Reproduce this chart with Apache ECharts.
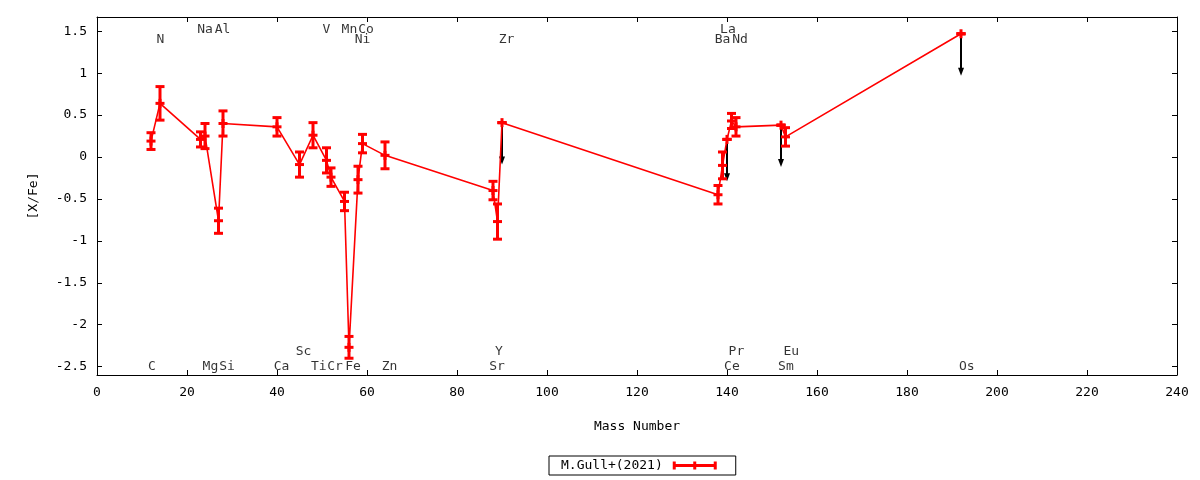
<!DOCTYPE html>
<html>
<head>
<meta charset="utf-8">
<script src="https://cdn.jsdelivr.net/npm/echarts@6/dist/echarts.min.js"></script>
<style>
  html, body { margin: 0; padding: 0; background: #fff; }
  #chart { width: 1200px; height: 480px; }
</style>
</head>
<body>
<div id="chart"></div>
<script>
// abundance pattern [X/Fe] vs mass number
var elements = ['C', 'N', 'Na', 'Mg', 'Al', 'Si', 'Ca', 'Sc', 'Ti', 'V', 'Cr', 'Mn', 'Fe', 'Ni', 'Co', 'Zn',
                'Sr', 'Y', 'Zr', 'Ba', 'La', 'Ce', 'Pr', 'Nd', 'Sm', 'Eu', 'Os'];
var massNumber = [12, 14, 23, 24, 27, 28, 40, 45, 48, 51, 52, 55, 56, 58, 59, 64,
                  88, 89, 90, 138, 139, 140, 141, 142, 152, 153, 192];
var xFe = [0.19, 0.64, 0.21, 0.25, -0.76, 0.40, 0.36, -0.09, 0.26, -0.04, -0.24, -0.53, -2.27, -0.27, 0.16, 0.02,
           -0.40, -0.77, 0.41, -0.45, -0.10, 0.21, 0.43, 0.36, 0.38, 0.24, 1.47];
var xFeErr = [0.10, 0.20, 0.09, 0.15, 0.15, 0.15, 0.11, 0.15, 0.15, 0.15, 0.11, 0.11, 0.13, 0.16, 0.11, 0.16,
              0.11, 0.21, 0, 0.11, 0.16, 0, 0.09, 0.11, 0, 0.11, 0];
// 1 = upper limit (arrow)
var upperLimit = [0, 0, 0, 0, 0, 0, 0, 0, 0, 0, 0, 0, 0, 0, 0, 0,
                  0, 0, 1, 0, 0, 1, 0, 0, 1, 0, 1];
var arrowLength = 0.5;

// element name labels
var labelX = [12.2, 14.1, 24, 25.2, 27.9, 28.9, 41, 45.9, 49.3, 51, 52.9, 56.1, 56.9, 59, 59.8, 65,
              88.9, 89.3, 91, 139, 140.2, 141.1, 142.1, 142.9, 153.1, 154.3, 193.3];
var labelRow = [3, 1, 0, 3, 0, 3, 3, 2, 3, 0, 3, 0, 3, 1, 0, 3,
                3, 2, 1, 1, 0, 3, 2, 1, 3, 2, 3];
var rowY = [1.52, 1.405, -2.325, -2.495];

var yTicks = [-2.5, -2, -1.5, -1, -0.5, 0, 0.5, 1, 1.5];
var seriesName = 'M.Gull+(2021)';

var FONT = 'DejaVu Sans Mono';
var RED = '#ff0000';

var lineData = [], errData = [], arrowData = [], labelData = [];
for (var i = 0; i < elements.length; i++) {
    lineData.push([massNumber[i], xFe[i]]);
    errData.push([massNumber[i], xFe[i], xFeErr[i]]);
    if (upperLimit[i]) {
        arrowData.push([massNumber[i], xFe[i], xFe[i] - arrowLength]);
    }
    labelData.push({ name: elements[i], value: [labelX[i], rowY[labelRow[i]]] });
}

function renderErr(params, api) {
    var x = api.value(0), y = api.value(1), e = api.value(2);
    var top = api.coord([x, y + e]);
    var mid = api.coord([x, y]);
    var bot = api.coord([x, y - e]);
    var hw = 4.5;
    var st = { stroke: RED, lineWidth: 3 };
    return {
        type: 'group',
        children: [
            { type: 'line', shape: { x1: mid[0], y1: top[1], x2: mid[0], y2: bot[1] }, style: st },
            { type: 'line', shape: { x1: mid[0] - hw, y1: top[1], x2: mid[0] + hw, y2: top[1] }, style: st },
            { type: 'line', shape: { x1: mid[0] - hw, y1: bot[1], x2: mid[0] + hw, y2: bot[1] }, style: st },
            { type: 'line', shape: { x1: mid[0] - hw, y1: mid[1], x2: mid[0] + hw, y2: mid[1] }, style: st },
            { type: 'line', shape: { x1: mid[0], y1: mid[1] - hw, x2: mid[0], y2: mid[1] + hw }, style: st }
        ]
    };
}

function renderArrow(params, api) {
    var p0 = api.coord([api.value(0), api.value(1)]);
    var p1 = api.coord([api.value(0), api.value(2)]);
    var hh = 8, hw = 3;
    return {
        type: 'group',
        children: [
            { type: 'line', shape: { x1: p0[0], y1: p0[1], x2: p1[0], y2: p1[1] - hh + 1 },
              style: { stroke: '#000', lineWidth: 2 } },
            { type: 'polygon', shape: { points: [[p1[0] - hw, p1[1] - hh], [p1[0] + hw, p1[1] - hh], [p1[0], p1[1]]] },
              style: { fill: '#000' } }
        ]
    };
}

function axisLine() {
    return { show: true, onZero: false, lineStyle: { color: '#000', width: 1 } };
}
function axisTick(custom) {
    var t = { show: true, inside: true, length: 5, lineStyle: { color: '#000' } };
    if (custom) t.customValues = custom;
    return t;
}

var option = {
    animation: false,
    textStyle: { fontFamily: FONT, fontSize: 13, color: '#000' },
    grid: { left: 97, right: 23, top: 17, bottom: 105 },
    legend: {
        data: [{
            name: seriesName,
            icon: 'path://M0,0h3v8h-3z M41,0h3v8h-3z M20.5,0h3v8h-3z M0,2.5h44v3h-44z',
            itemStyle: { color: RED, borderWidth: 0 }
        }],
        align: 'right',
        left: 549,
        top: 456,
        itemWidth: 44,
        itemHeight: 8,
        padding: [3, 19, 3, 12],
        borderColor: '#000',
        borderWidth: 1,
        borderRadius: 0,
        textStyle: { fontFamily: FONT, fontSize: 13, color: '#000', padding: [0, 5, 0, 0] }
    },
    xAxis: [
        {
            type: 'value', min: 0, max: 240, interval: 20, position: 'bottom',
            name: 'Mass Number', nameLocation: 'middle', nameGap: 45,
            nameTextStyle: { fontFamily: FONT, fontSize: 13, color: '#000' },
            axisLine: axisLine(), axisTick: axisTick(), splitLine: { show: false },
            axisLabel: { color: '#000', fontFamily: FONT, fontSize: 13, margin: 11 }
        },
        {
            type: 'value', min: 0, max: 240, interval: 20, position: 'top',
            axisLine: axisLine(), axisTick: axisTick(), splitLine: { show: false },
            axisLabel: { show: false }
        }
    ],
    yAxis: [
        {
            type: 'value', min: -2.6, max: 1.67, position: 'left',
            name: '[X/Fe]', nameLocation: 'middle', nameGap: 57,
            nameTextStyle: { fontFamily: FONT, fontSize: 13, color: '#000' },
            axisLine: axisLine(), axisTick: axisTick(yTicks), splitLine: { show: false },
            axisLabel: { color: '#000', fontFamily: FONT, fontSize: 13, margin: 10, customValues: yTicks }
        },
        {
            type: 'value', min: -2.6, max: 1.67, position: 'right',
            axisLine: axisLine(), axisTick: axisTick(yTicks), splitLine: { show: false },
            axisLabel: { show: false, customValues: yTicks }
        }
    ],
    series: [
        {
            name: 'limits',
            type: 'custom',
            renderItem: renderArrow,
            data: arrowData,
            z: 1,
            silent: true
        },
        {
            name: seriesName,
            type: 'line',
            data: lineData,
            symbol: 'none',
            lineStyle: { color: RED, width: 1.6 },
            itemStyle: { color: RED },
            z: 2,
            silent: true
        },
        {
            name: 'errors',
            type: 'custom',
            renderItem: renderErr,
            data: errData,
            z: 3,
            silent: true
        },
        {
            name: 'labels',
            type: 'scatter',
            data: labelData,
            symbolSize: 0,
            label: {
                show: true,
                position: 'inside',
                formatter: '{b}',
                color: '#000',
                fontFamily: FONT,
                fontSize: 13
            },
            z: 4,
            silent: true
        }
    ]
};

var myChart = echarts.init(document.getElementById('chart'));
myChart.setOption(option);
</script>
</body>
</html>
